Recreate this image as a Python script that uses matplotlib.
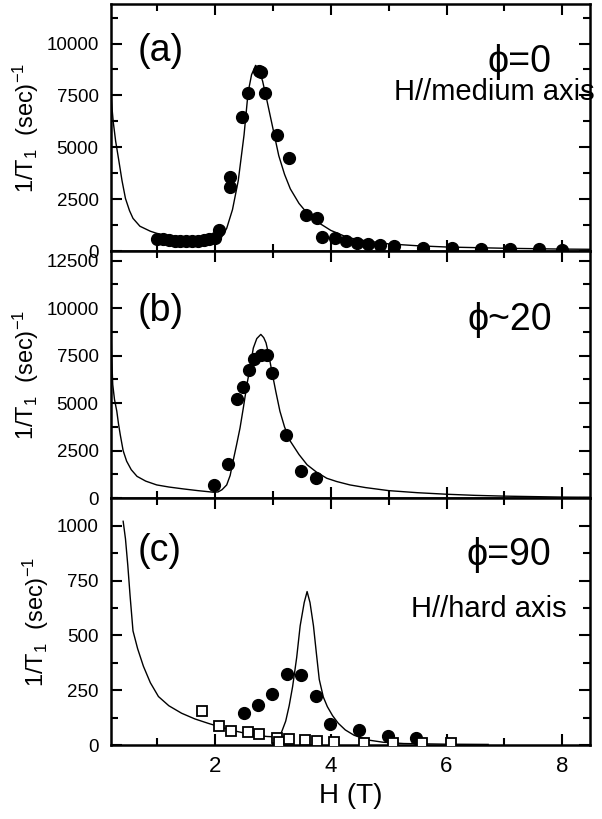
import matplotlib
matplotlib.use('Agg')
import matplotlib.pyplot as plt
from matplotlib.ticker import MultipleLocator

plt.rcParams['font.family'] = ['Liberation Sans', 'DejaVu Sans']
plt.rcParams['mathtext.fontset'] = 'custom'
plt.rcParams['mathtext.rm'] = 'Liberation Sans'
plt.rcParams['mathtext.it'] = 'Liberation Sans'

# panel (a): phi = 0, H // medium axis
a_x = [1.0, 1.1, 1.2, 1.3, 1.4, 1.5, 1.6, 1.7, 1.8, 1.9, 2.0, 2.06, 2.26, 2.26,
       2.46, 2.57, 2.75, 2.8, 2.87, 3.07, 3.27, 3.57, 3.76, 3.85, 4.08, 4.26,
       4.45, 4.65, 4.85, 5.1, 5.6, 6.1, 6.6, 7.1, 7.6, 8.0]
a_y = [600, 570, 540, 510, 490, 480, 490, 510, 540, 570, 610, 1020, 3100, 3570,
       6480, 7640, 8700, 8620, 7600, 5600, 4480, 1740, 1580, 670, 620, 490,
       410, 340, 280, 230, 170, 130, 110, 90, 80, 70]
a_fit_x = [0.2, 0.22, 0.24, 0.28, 0.33, 0.39, 0.45, 0.52, 0.58, 0.7, 0.88, 1.0,
           1.17, 1.4, 1.63, 1.85, 1.97, 2.05, 2.1, 2.2, 2.3, 2.4, 2.5, 2.57,
           2.63, 2.7, 2.76, 2.82, 2.9, 3.0, 3.1, 3.2, 3.3, 3.45, 3.6, 3.8, 4.0,
           4.3, 4.6, 5.0, 5.5, 6.0, 7.0, 8.0, 8.5]
a_fit_y = [7600, 6800, 6200, 5300, 4450, 3400, 2535, 1950, 1580, 1200, 960, 850,
           720, 610, 530, 470, 430, 470, 620, 1100, 2000, 3400, 5600, 7650,
           8500, 8950, 8700, 8200, 7200, 5900, 4600, 3700, 3000, 2300, 1800, 1350, 1000,
           650, 500, 350, 260, 200, 140, 100, 90]

# panel (b): phi ~ 20
b_x = [1.98, 2.23, 2.38, 2.48, 2.58, 2.68, 2.79, 2.89, 2.99, 3.23, 3.48, 3.74]
b_y = [700, 1790, 5220, 5850, 6770, 7300, 7520, 7560, 6590, 3340, 1440, 1050]
b_fit_x = [0.2, 0.21, 0.23, 0.26, 0.30, 0.33, 0.36, 0.41, 0.47, 0.55, 0.65, 0.8,
           0.99, 1.2, 1.45, 1.7, 1.97, 2.05, 2.12, 2.2, 2.26, 2.31, 2.37, 2.43,
           2.49, 2.55, 2.61, 2.66, 2.72, 2.79, 2.84, 2.88, 2.93, 2.98, 3.05, 3.12,
           3.2, 3.30, 3.45, 3.59, 3.75, 3.93, 4.1, 4.33, 4.6, 5.0, 5.5, 6.0, 6.5,
           7.0, 8.0, 8.5]
b_fit_y = [8900, 7600, 5980, 5200, 4580, 3900, 3340, 2500, 1950, 1500, 1150, 900,
           700, 590, 490, 400, 316, 330, 450, 700, 1200, 1950, 2800, 3690,
           4800, 5980, 7000, 7900, 8400, 8620, 8450, 8175, 7500, 6680, 5600, 4580,
           3750, 3000, 2300, 1760, 1380, 1050, 880, 700, 560, 400, 290, 210, 150,
           110, 60, 50]

# panel (c): phi = 90, H // hard axis
c_x = [2.50, 2.74, 2.99, 3.24, 3.49, 3.74, 3.99, 4.49, 4.99, 5.48]
c_y = [145, 182, 235, 324, 318, 226, 99, 69, 41, 35]
c_sq_x = [1.77, 2.06, 2.27, 2.56, 2.76, 3.07, 3.1, 3.27, 3.56, 3.76, 4.06, 4.57,
          5.08, 5.57, 6.08]
c_sq_y = [156, 87, 64, 60, 52, 35, 15, 28, 23, 18, 15, 11, 9, 9, 9]
c_fit_x = [0.41, 0.45, 0.49, 0.53, 0.58, 0.66, 0.76, 0.88, 1.02, 1.2, 1.42, 1.65,
           1.88, 2.08, 2.28, 2.48, 2.68, 2.9, 3.08, 3.14, 3.22, 3.28, 3.34, 3.41,
           3.47, 3.54, 3.59, 3.64, 3.70, 3.75, 3.80, 3.87, 3.94, 4.03, 4.13, 4.25,
           4.40, 4.55, 4.67, 4.9, 5.26, 6.0, 6.72]
c_fit_y = [1020, 940, 820, 680, 521, 440, 360, 285, 222, 180, 146, 120,
           100, 84, 69, 57, 46, 40, 38, 54, 110, 180, 268, 400,
           544, 650, 700, 650, 544, 420, 300, 220, 176, 135, 100, 70,
           46, 32, 23, 14, 8, 5, 4]

fig = plt.figure(figsize=(6.02, 8.19), dpi=100)
gs = fig.add_gridspec(3, 1, left=0.1844, right=0.980, top=0.995, bottom=0.090,
                      hspace=0)
axes = [fig.add_subplot(gs[i]) for i in range(3)]

# (x, y, fit x, fit y, ylim, major, minor, tag, tag y, phi, phi y, note, note x, note y)
panels = [
    (a_x, a_y, a_fit_x, a_fit_y, (0, 11900), 2500, 1250, '(a)', 0.81,
     '\u03d5=0', 0.767, 'H//medium axis', 1.01, 0.645),
    (b_x, b_y, b_fit_x, b_fit_y, (0, 13000), 2500, 1250, '(b)', 0.757,
     '\u03d5~20', 0.72, None, 0, 0),
    (c_x, c_y, c_fit_x, c_fit_y, (0, 1125), 250, 125, '(c)', 0.785,
     '\u03d5=90', 0.77, 'H//hard axis', 0.952, 0.55),
]

for ax, (px, py, fx, fy, ylim, major, minor, tag, ty, phi, phy, note, nx, ny) in zip(axes, panels):
    ax.plot(fx, fy, color='black', lw=1.0, zorder=2)
    ax.plot(px, py, 'o', color='black', ms=8.5, zorder=3)
    ax.set_xlim(0.2, 8.48)
    ax.set_ylim(*ylim)
    ax.xaxis.set_major_locator(MultipleLocator(2))
    ax.xaxis.set_minor_locator(MultipleLocator(1))
    ax.yaxis.set_major_locator(MultipleLocator(major))
    ax.yaxis.set_minor_locator(MultipleLocator(minor))
    ax.tick_params(which='both', direction='in', top=True, right=True, width=1.5)
    ax.tick_params(which='major', length=8)
    ax.tick_params(which='minor', length=5)
    ax.tick_params(axis='y', labelsize=13.5, pad=9)
    ax.tick_params(axis='x', labelsize=16, pad=8)
    for s in ax.spines.values():
        s.set_linewidth(1.8)
    ax.set_ylabel('1/T$_1$  (sec)$^{-1}$', fontsize=17, labelpad=4)
    ax.text(0.055, ty, tag, transform=ax.transAxes, fontsize=27,
            ha='left', va='center')
    ax.text(0.92, phy, phi, transform=ax.transAxes, fontsize=27,
            ha='right', va='center')
    if note:
        ax.text(nx, ny, note, transform=ax.transAxes, fontsize=21,
                ha='right', va='center', clip_on=False)
    if ax is not axes[2]:
        ax.tick_params(axis='x', labelbottom=False)

axes[2].plot(c_sq_x, c_sq_y, 's', mfc='white', mec='black', mew=1.3, ms=7.5,
             zorder=4)
axes[2].set_xlabel('H (T)', fontsize=20, labelpad=4)

fig.savefig('out.png', dpi=100)
